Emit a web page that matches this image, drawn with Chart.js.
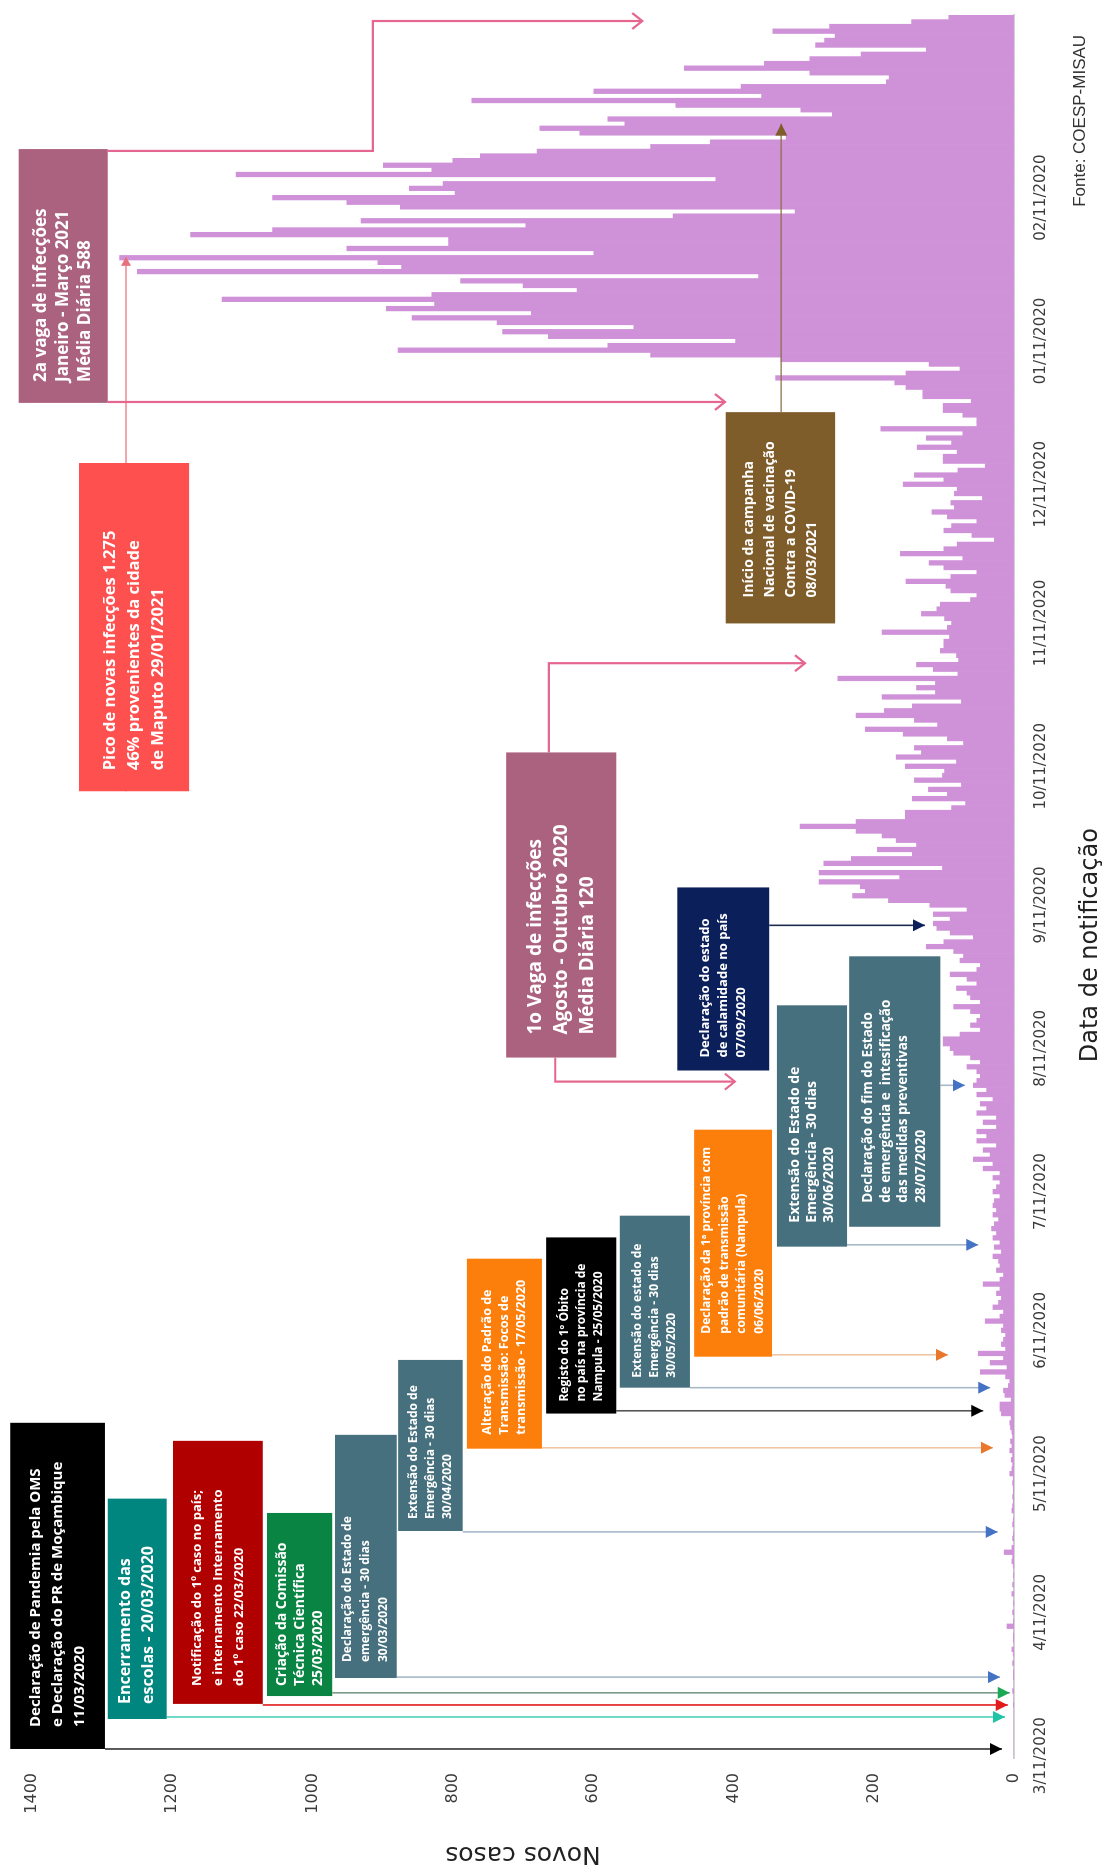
<!DOCTYPE html>
<html lang="pt">
<head>
<meta charset="utf-8">
<title>Novos casos - Moçambique</title>
<script src="https://cdn.jsdelivr.net/npm/chart.js@4.4.1/dist/chart.umd.min.js"></script>
<style>
  html, body { margin: 0; padding: 0; background: #fff; }
  #wrap { position: relative; width: 1111px; height: 1875px; overflow: hidden; }
  /* the chart is drawn lying down and turned a quarter turn */
  #chart { position: absolute; left: 0; top: 0; width: 1875px; height: 1111px;
           transform-origin: 0 0; transform: translate(0, 1875px) rotate(-90deg); }
</style>
</head>
<body>
<div id="wrap"><canvas id="chart" width="1875" height="1111"></canvas></div>
<script>
// novos casos diarios, a partir de 11/03/2020
const casesMar2020 = [0,0,0,0,0,0,0,0,0,0,0,1,0,0,2,0,0,1,1,0,2];
const casesApr2020 = [0,1,3,0,1,1,0,10,1,0,2,0,1,0,3,0,2,0,1,0,1,3,2,14,3,0,2,1,0,2];
const casesMay2020 = [1,0,3,2,1,2,1,1,2,1,6,3,2,4,2,6,3,5,2,3,5,6,4,18,20,20,4,13,15,8,6];
const casesJun2020 = [12,48,10,34,15,51,12,18,15,12,18,15,41,20,15,30,22,18,25,20,44,20,15,25,20,22,30,18,28,20];
const casesJul2020 = [30,25,32,28,22,30,25,30,28,20,30,25,20,30,20,44,30,58,34,44,25,53,39,53,25,44,25,53,39,48,30];
const casesAug2020 = [53,39,58,53,48,53,67,48,62,86,91,101,101,77,48,62,53,48,62,86,48,62,67,82,53,67,91,53,48,77,72];
const casesSep2020 = [86,125,100,58,91,110,115,91,115,67,120,179,230,212,219,278,163,278,102,271,232,145,195,139,168,188,225,305,225,155];
const casesOct2020 = [155,89,69,145,95,122,75,142,102,99,155,82,168,132,142,72,95,158,212,109,142,225,185,145,75,188,112,139,112,251,80];
const casesNov2020 = [115,139,79,82,105,100,100,92,188,95,89,99,132,110,105,62,53,90,97,154,90,53,100,121,73,162,100,81,28,60];
const casesDec2020 = [100,89,53,95,117,85,90,45,85,81,158,100,142,80,41,101,101,81,138,89,125,73,190,53,53,73,101,101,61,130,130];
const casesJan2021 = [154,170,340,154,77,121,332,518,878,579,397,664,729,542,737,858,688,895,826,1129,830,623,700,789,364,1250,873,907,1275,599,951];
const casesFeb2021 = [806,806,1174,1057,696,931,486,312,875,951,1057,797,862,814,425,1109,830,899,800,761,680,518,433,325,619,676,555,579];
const casesMar2021 = [259,304,482,773,360,599,389,182,178,291,470,356,291,218,125,283,270,255,344,263,146,93];

const dateTicks = ['3/11/2020','4/11/2020','5/11/2020','6/11/2020','7/11/2020','8/11/2020',
                   '9/11/2020','10/11/2020','11/11/2020','12/11/2020','01/11/2020','02/11/2020'];
const valueTicks = [0, 200, 400, 600, 800, 1000, 1200, 1400];

const dailyCases = [].concat(casesMar2020, casesApr2020, casesMay2020, casesJun2020, casesJul2020,
  casesAug2020, casesSep2020, casesOct2020, casesNov2020, casesDec2020, casesJan2021, casesFeb2021, casesMar2021);

const dayLabels = dailyCases.map((_, i) => {
  const dt = new Date(2020, 2, 11 + i);
  return dt.getDate() + '/' + (dt.getMonth() + 1) + '/' + dt.getFullYear();
});
const tickDays = [];
dayLabels.forEach((lab, i) => {
  if (lab.startsWith('11/') && tickDays.length < dateTicks.length) tickDays.push(i);
});

// caixas de eventos: dias (inicio, fim) e casos (esquerda, direita)
const boxes = [
  { d: [1.45, 72.0], v: [1431, 1296], bg: '#000000', size: 15, lh: 22, pad: 22, lines: ['Declaração de Pandemia pela OMS', 'e Declaração do PR de Moçambique', '11/03/2020'] },
  { d: [7.94, 55.6], v: [1292, 1208], bg: '#00857f', size: 16, lh: 23, pad: 15, lines: ['Encerramento das', 'escolas - 20/03/2020'] },
  { d: [11.2, 68.1], v: [1199, 1071], bg: '#b10000', size: 13, lh: 21, pad: 18, lines: ['Notificação do 1º caso no país;', 'e internamento Internamento', 'do 1º caso 22/03/2020'] },
  { d: [12.9, 52.5], v: [1065, 972], bg: '#0a8443', size: 14, lh: 18, pad: 10, lines: ['Criação da Comissão', 'Técnica Científica', '25/03/2020'] },
  { d: [16.8, 69.4], v: [968, 880], bg: '#46707d', size: 12, lh: 18, pad: 16, lines: ['Declaração do Estado de', 'emergência - 30 dias', '30/03/2020'] },
  { d: [48.6, 85.6], v: [878, 786], bg: '#46707d', size: 12, lh: 17, pad: 12, lines: ['Extensão do Estado de', 'Emergência - 30 dias', '30/04/2020'] },
  { d: [66.4, 107.5], v: [780, 673], bg: '#fd7f0b', size: 12.5, lh: 17, pad: 14, lines: ['Alteração do Padrão de', 'Transmissão: Focos de', 'transmissão - 17/05/2020'] },
  { d: [74.0, 112.1], v: [667, 567], bg: '#000000', size: 12, lh: 17, pad: 12, lines: ['Registo do 1º Óbito', 'no país na província de', 'Nampula - 25/05/2020'] },
  { d: [79.6, 116.8], v: [562, 462], bg: '#46707d', size: 12, lh: 17, pad: 10, lines: ['Extensão do estado de', 'Emergência - 30 dias', '30/05/2020'] },
  { d: [86.3, 135.4], v: [456, 345], bg: '#fd7f0b', size: 12, lh: 17.5, pad: 23, lines: ['Declaração da 1ª província com', 'padrão de transmissão', 'comunitária (Nampula)', '06/06/2020'] },
  { d: [110.1, 162.3], v: [338, 238], bg: '#46707d', size: 14, lh: 17, pad: 24, lines: ['Extensão do Estado de', 'Emergência - 30 dias', '30/06/2020'] },
  { d: [114.4, 172.9], v: [235, 105], bg: '#46707d', size: 13.5, lh: 17.5, pad: 24, lines: ['Declaração do fim do Estado', 'de emergência e  intesificação', 'das medidas preventivas', '28/07/2020'] },
  { d: [148.2, 187.8], v: [480, 349], bg: '#0b1f5b', size: 13, lh: 18, pad: 13, lines: ['Declaração do estado', 'de calamidade no país', '07/09/2020'] },
  { d: [151.0, 217.0], v: [724, 567], bg: '#ab627e', size: 19, lh: 26, pad: 23, lines: ['1o Vaga de infecções', 'Agosto - Outubro 2020', 'Média Diária 120'] },
  { d: [208.6, 279.6], v: [1333, 1176], bg: '#ff5050', size: 16.5, lh: 24, pad: 21, lines: ['Pico de novas infecções 1.275', '46% provenientes da cidade', 'de Maputo 29/01/2021'] },
  { d: [292.6, 347.5], v: [1419, 1292], bg: '#ab627e', size: 17, lh: 22, pad: 21, lines: ['2a vaga de infecções', 'Janeiro - Março 2021', 'Média Diária 588'] },
  { d: [244.9, 290.6], v: [411, 255], bg: '#7e5d2a', size: 14, lh: 21, pad: 26, lines: ['Início da campanha', 'Nacional de vacinação', 'Contra a COVID-19', '08/03/2021'] }
];

const BLUE = { line: '#a7b8c9', head: '#4472c4' };
const ORANGE = { line: '#f0c6a4', head: '#e9782d' };
const PINK = { line: '#e5668f', head: '#e5668f', open: true, w: 2.2 };
// setas: pontos em (dia, casos)
const arrows = [
  { p: [[1.45, 1296], [1.45, 17]], line: '#333333', head: '#000000' },
  { p: [[8.37, 1208], [8.37, 13]], line: '#4fd1bd', head: '#20c3a5' },
  { p: [[10.97, 1071], [10.97, 9]], line: '#e31b1b', head: '#e31b1b' },
  { p: [[13.6, 972], [13.6, 6]], line: '#7d9a88', head: '#1aa855' },
  { p: [[17.0, 880], [17.0, 20]], ...BLUE },
  { p: [[48.4, 786], [48.4, 23]], ...BLUE },
  { p: [[66.6, 673], [66.6, 30]], ...ORANGE },
  { p: [[74.6, 567], [74.6, 44]], line: '#555555', head: '#000000' },
  { p: [[79.6, 462], [79.6, 34]], ...BLUE },
  { p: [[86.7, 345], [86.7, 94]], ...ORANGE },
  { p: [[110.5, 238], [110.5, 51]], ...BLUE },
  { p: [[145, 105], [145, 70]], ...BLUE },
  { p: [[179.6, 349], [179.6, 127]], line: '#1c2b4f', head: '#0b1f5b' },
  { p: [[151.0, 654], [145.8, 654], [145.8, 398]], ...PINK },
  { p: [[217.0, 663], [236.3, 663], [236.3, 298]], ...PINK },
  { p: [[208.6, 1266], [324.2, 1266]], line: '#ef8a92', head: '#e8707c', w: 1.4, len: 9, hw: 5 },
  { p: [[347.1, 1292], [347.1, 914], [375.2, 914], [375.2, 530]], ...PINK },
  { p: [[292.8, 1292], [292.8, 412]], ...PINK },
  { p: [[290.6, 332], [353.0, 332]], line: '#8c6d45', head: '#7e5d2a', w: 1.3 }
];

function drawHead(ctx, x0, y0, x1, y1, a) {
  const len = a.len || (a.open ? 10 : 12), hw = a.hw || (a.open ? 8 : 6);
  ctx.save();
  ctx.translate(x1, y1);
  ctx.rotate(Math.atan2(y1 - y0, x1 - x0));
  ctx.beginPath();
  if (a.open) {
    ctx.moveTo(-len, -hw); ctx.lineTo(0, 0); ctx.lineTo(-len, hw);
    ctx.strokeStyle = a.head; ctx.lineWidth = a.w || 2; ctx.stroke();
  } else {
    ctx.moveTo(0, 0); ctx.lineTo(-len, -hw); ctx.lineTo(-len, hw); ctx.closePath();
    ctx.fillStyle = a.head; ctx.fill();
  }
  ctx.restore();
}

const notes = {
  id: 'notes',
  afterDatasetsDraw(chart) {
    const { ctx, scales: { x, y } } = chart;
    const px = d => x.getPixelForValue(d);
    const py = v => y.getPixelForValue(v);
    ctx.save();
    arrows.forEach(a => {
      const pts = a.p.map(([d, v]) => [px(d), py(v)]);
      ctx.beginPath();
      pts.forEach(([u, w], i) => i ? ctx.lineTo(u, w) : ctx.moveTo(u, w));
      ctx.strokeStyle = a.line; ctx.lineWidth = a.w || 1.6; ctx.stroke();
      const n = pts.length;
      drawHead(ctx, pts[n - 2][0], pts[n - 2][1], pts[n - 1][0], pts[n - 1][1], a);
    });
    boxes.forEach(b => {
      const l = px(b.d[0]), r = px(b.d[1]), t = py(b.v[0]), bt = py(b.v[1]);
      ctx.fillStyle = b.bg;
      ctx.fillRect(l, t, r - l, bt - t);
      ctx.fillStyle = '#ffffff';
      ctx.font = `bold ${b.size}px "Open Sans", "DejaVu Sans", sans-serif`;
      ctx.textAlign = 'left'; ctx.textBaseline = 'middle';
      const mid = (t + bt) / 2, n = b.lines.length;
      b.lines.forEach((s, i) => ctx.fillText(s, l + b.pad, mid + (i - (n - 1) / 2) * b.lh));
    });
    ctx.restore();
  },
  afterDraw(chart) {
    const { ctx, scales: { x } } = chart;
    ctx.save();
    ctx.fillStyle = '#222';
    ctx.textAlign = 'center'; ctx.textBaseline = 'middle';
    ctx.font = '24px "DejaVu Sans", sans-serif';
    ctx.fillText('Data de notificação', x.getPixelForValue(175.3), 1091);
    ctx.font = '17px "Liberation Sans", Arial, sans-serif';
    ctx.fillStyle = '#333';
    ctx.fillText('Fonte: COESP-MISAU', x.getPixelForValue(353.6), 1080);
    ctx.restore();
  }
};

new Chart(document.getElementById('chart'), {
  type: 'bar',
  data: {
    labels: dayLabels,
    datasets: [{
      label: 'Novos casos',
      data: dailyCases,
      backgroundColor: '#cf92d8',
      borderWidth: 0,
      barPercentage: 1,
      categoryPercentage: 1
    }]
  },
  options: {
    responsive: false,
    animation: false,
    devicePixelRatio: 1,
    layout: { padding: { left: 0, right: 15, top: 32, bottom: 0 } },
    plugins: { legend: { display: false }, tooltip: { enabled: false } },
    scales: {
      x: {
        type: 'category',
        offset: true,
        grid: { display: false, drawTicks: false },
        border: { display: true, color: '#d4d4d4', width: 2 },
        afterBuildTicks: s => { s.ticks = tickDays.map(v => ({ value: v })); },
        afterFit: s => { s.height = 97; },
        ticks: {
          autoSkip: false, maxRotation: 0, minRotation: 0, padding: 18,
          color: '#3a3a3a',
          font: { family: 'DejaVu Sans', size: 15 },
          callback: v => dateTicks[tickDays.indexOf(v)]
        }
      },
      y: {
        min: 0, max: 1400,
        afterBuildTicks: s => { s.ticks = valueTicks.map(v => ({ value: v })); },
        afterFit: s => { s.width = 117; },
        grid: { display: false, drawTicks: false },
        border: { display: false },
        ticks: {
          padding: 15, color: '#3a3a3a', font: { family: 'DejaVu Sans', size: 16 },
          callback: v => String(v)
        },
        title: {
          display: true, text: 'Novos casos', color: '#222',
          font: { family: 'DejaVu Sans', size: 25 },
          padding: { top: 6, bottom: 0 }
        }
      }
    }
  },
  plugins: [notes]
});
</script>
</body>
</html>
